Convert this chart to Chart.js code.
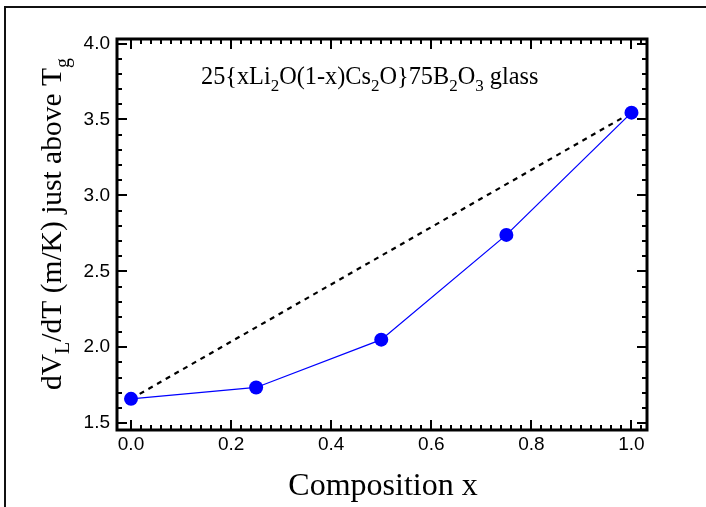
<!DOCTYPE html>
<html>
<head>
<meta charset="utf-8">
<script src="https://cdn.jsdelivr.net/npm/chart.js@4/dist/chart.umd.min.js"></script>
<style>
  html, body { margin: 0; padding: 0; background: #fff; }
  canvas { display: block; }
</style>
</head>
<body>
<canvas id="c" width="706" height="507"></canvas>
<script>
// composition x and dV/dT values
const compX = [0, 0.25, 0.5, 0.75, 1.0];
const dvdt = [1.66, 1.735, 2.05, 2.74, 3.545];

// tick labels
const xTicks = [0.0, 0.2, 0.4, 0.6, 0.8, 1.0];
const yTicks = [1.5, 2.0, 2.5, 3.0, 3.5, 4.0];

const SERIF = "'Liberation Serif', 'Times New Roman', serif";
const SANS = "'Liberation Sans', Arial, sans-serif";

// draws text pieces, some of them subscripted
function drawRich(ctx, parts, x, y, size) {
    let cx = x;
    parts.forEach(p => {
        const sub = p[1];
        ctx.font = (sub ? Math.round(size * 0.68) : size) + 'px ' + SERIF;
        ctx.fillText(p[0], cx, sub ? y + size * 0.28 : y);
        cx += ctx.measureText(p[0]).width;
    });
}
function richWidth(ctx, parts, size) {
    let w = 0;
    parts.forEach(p => {
        ctx.font = (p[1] ? Math.round(size * 0.68) : size) + 'px ' + SERIF;
        w += ctx.measureText(p[0]).width;
    });
    return w;
}

const frame = {
    id: 'frame',
    afterDraw(chart) {
        const ctx = chart.ctx;
        const a = chart.chartArea;
        const xs = chart.scales.x, ys = chart.scales.y;
        ctx.save();

        // outer frame of the figure
        ctx.strokeStyle = '#111';
        ctx.lineWidth = 2;
        ctx.beginPath();
        ctx.moveTo(5, 507);
        ctx.lineTo(5, 7);
        ctx.lineTo(706, 7);
        ctx.stroke();

        // inward ticks on all four sides
        ctx.strokeStyle = '#000';
        ctx.lineWidth = 2;
        ctx.beginPath();
        for (let i = 0; i <= 51; i++) {
            const v = i * 0.02;
            const px = Math.round(xs.getPixelForValue(v));
            if (px <= a.left + 2 || px >= a.right - 2) continue;
            const len = (i % 10 === 0) ? 10 : 5;
            ctx.moveTo(px, a.bottom); ctx.lineTo(px, a.bottom - len);
            ctx.moveTo(px, a.top); ctx.lineTo(px, a.top + len);
        }
        for (let i = 0; i <= 25; i++) {
            const v = 1.5 + i * 0.1;
            const py = Math.round(ys.getPixelForValue(v));
            if (py <= a.top + 2 || py >= a.bottom - 2) continue;
            const len = (i % 5 === 0) ? 10 : 5;
            ctx.moveTo(a.left, py); ctx.lineTo(a.left + len, py);
            ctx.moveTo(a.right, py); ctx.lineTo(a.right - len, py);
        }
        ctx.stroke();

        // axes box
        ctx.lineWidth = 3;
        ctx.strokeRect(a.left, a.top, a.right - a.left, a.bottom - a.top);

        // annotation
        ctx.fillStyle = '#000';
        ctx.textBaseline = 'alphabetic';
        ctx.textAlign = 'left';
        drawRich(ctx, [['25{xLi'], ['2', true], ['O(1-x)Cs'], ['2', true], ['O}75B'], ['2', true], ['O'], ['3', true], [' glass']], 201, 84, 24.3);

        // x title
        ctx.font = '32px ' + SERIF;
        ctx.textAlign = 'center';
        ctx.fillText('Composition x', 383, 495);

        // y title
        const yParts = [['dV'], ['L', true], ['/dT (m/K) just above T'], ['g', true]];
        ctx.translate(61, 224);
        ctx.rotate(-Math.PI / 2);
        ctx.textAlign = 'left';
        const w = richWidth(ctx, yParts, 29.5);
        drawRich(ctx, yParts, -w / 2, 0, 29.5);
        ctx.restore();
    }
};

new Chart(document.getElementById('c'), {
    type: 'scatter',
    data: {
        datasets: [{
            data: compX.map((x, i) => ({ x: x, y: dvdt[i] })),
            showLine: true,
            borderColor: '#0000ff',
            borderWidth: 1.3,
            backgroundColor: '#0000ff',
            pointRadius: 7,
            pointBorderWidth: 0,
            order: 1
        }, {
            data: [
                { x: compX[0], y: dvdt[0] },
                { x: compX[compX.length - 1], y: dvdt[dvdt.length - 1] }
            ],
            showLine: true,
            borderColor: '#000',
            borderWidth: 2.2,
            borderDash: [5, 5],
            pointRadius: 0,
            order: 2
        }]
    },
    options: {
        responsive: false,
        animation: false,
        layout: { padding: { left: 0, top: 39, right: 59, bottom: 0 } },
        plugins: { legend: { display: false }, tooltip: { enabled: false } },
        scales: {
            x: {
                type: 'linear',
                min: -0.028,
                max: 1.031,
                grid: { display: false, drawTicks: false },
                border: { display: false },
                afterBuildTicks: s => { s.ticks = xTicks.map(v => ({ value: v })); },
                afterFit: s => { s.height = 77; },
                ticks: {
                    color: '#000',
                    padding: 3,
                    maxRotation: 0,
                    font: { family: SANS, size: 19 },
                    callback: v => v.toFixed(1)
                }
            },
            y: {
                type: 'linear',
                min: 1.455,
                max: 4.03,
                grid: { display: false, drawTicks: false },
                border: { display: false },
                afterBuildTicks: s => { s.ticks = yTicks.map(v => ({ value: v })); },
                afterFit: s => { s.width = 117; },
                ticks: {
                    color: '#000',
                    padding: 7,
                    font: { family: SANS, size: 19 },
                    callback: v => v.toFixed(1)
                }
            }
        }
    },
    plugins: [frame]
});
</script>
</body>
</html>
